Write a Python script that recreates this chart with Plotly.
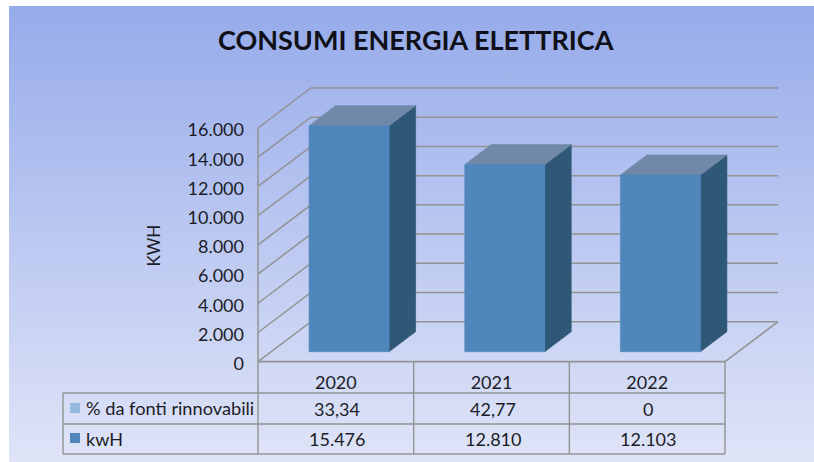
import plotly.graph_objects as go

# ---- data ----
years = ["2020", "2021", "2022"]
kwh = [15476, 12810, 12103]
renewable_pct = [33.34, 42.77, 0]
y_ticks = [0, 2000, 4000, 6000, 8000, 10000, 12000, 14000, 16000]
title_text = "CONSUMI ENERGIA ELETTRICA"
y_title = "KWH"
row_names = ["% da fonti rinnovabili", "kwH"]

# ---- layout constants ----
W, H = 814, 462
PX_X0, PX_Y0 = 258.0, 361.7      # pixel position of category 0 / value 0
PX_PER_CAT = 155.67
PX_PER_VAL = 233.7 / 16000
DEPTH_X = 53 / PX_PER_CAT        # oblique depth in category units
DEPTH_Y = 40 / PX_PER_VAL        # oblique depth in value units
BAR_HALF = 0.257
N = len(years)

GRID = "#939393"
FRONT, TOP, SIDE = "#4F86BC", "#7089A8", "#2F5877"
LIGHT_KEY = "#95B8DF"
TEXT = "#1c1c28"
FONT = "Lato"


def px(x):
    return x / W


def py(y):
    return 1 - y / H


def proj(cat, depth, val):
    return cat + depth * DEPTH_X, val + depth * DEPTH_Y


fig = go.Figure()

# background gradient on hidden full-page axes
fig.add_trace(go.Scatter(
    x=[9, W, W, 9, 9], y=[6, 6, H, H, 6], mode="lines", line=dict(width=0),
    fill="toself", showlegend=False, hoverinfo="skip", xaxis="x", yaxis="y",
    fillgradient=dict(type="vertical", start=6, stop=H,
                      colorscale=[[0, "#96ABEA"], [1, "#DFE4F7"]]),
))


def line(xs, ys, width=1.5):
    fig.add_trace(go.Scatter(x=xs, y=ys, mode="lines", showlegend=False, hoverinfo="skip",
                             line=dict(color=GRID, width=width), xaxis="x2", yaxis="y2"))


def face(pts, color):
    xs = [p[0] for p in pts] + [pts[0][0]]
    ys = [p[1] for p in pts] + [pts[0][1]]
    fig.add_trace(go.Scatter(x=xs, y=ys, mode="lines", fill="toself", fillcolor=color,
                             line=dict(color=color, width=0.6), showlegend=False,
                             hoverinfo="skip", xaxis="x2", yaxis="y2"))


# walls and floor
for v in y_ticks:
    a, b, c = proj(0, 0, v), proj(0, 1, v), proj(N, 1, v)
    line([a[0], b[0], c[0]], [a[1], b[1], c[1]])
line([0, 0], [0, y_ticks[-1]])
line([0, N], [0, 0], 1.8)
f, g = proj(N, 0, 0), proj(N, 1, 0)
line([f[0], g[0]], [f[1], g[1]])

# bars
for i, v in enumerate(kwh):
    x0, x1 = i + 0.5 - BAR_HALF, i + 0.5 + BAR_HALF
    d0, d1 = 0.25, 0.75
    face([proj(x1, d0, 0), proj(x1, d1, 0), proj(x1, d1, v), proj(x1, d0, v)], SIDE)
    face([proj(x0, d0, v), proj(x1, d0, v), proj(x1, d1, v), proj(x0, d1, v)], TOP)
    face([proj(x0, d0, 0), proj(x1, d0, 0), proj(x1, d0, v), proj(x0, d0, v)], FRONT)

# data table grid
TBL_L, TBL_COL0 = 63, 259
TBL_R = PX_X0 + N * PX_PER_CAT
ROWS = [393, 424, 454]
shapes = []
for ry in ROWS:
    shapes.append(dict(type="line", xref="paper", yref="paper", x0=px(TBL_L), x1=px(TBL_R),
                       y0=py(ry), y1=py(ry), line=dict(color=GRID, width=1.4)))
shapes.append(dict(type="line", xref="paper", yref="paper", x0=px(TBL_L), x1=px(TBL_L),
                   y0=py(ROWS[0]), y1=py(ROWS[-1]), line=dict(color=GRID, width=1.4)))
for k in range(N + 1):
    cx = PX_X0 + k * PX_PER_CAT
    shapes.append(dict(type="line", xref="paper", yref="paper", x0=px(cx), x1=px(cx),
                       y0=py(PX_Y0), y1=py(ROWS[-1]), line=dict(color=GRID, width=1.4)))
for ky, col in ((408, LIGHT_KEY), (438, FRONT)):
    shapes.append(dict(type="rect", xref="paper", yref="paper", x0=px(70), x1=px(80),
                       y0=py(ky - 5), y1=py(ky + 5), fillcolor=col, line=dict(width=0)))


def it_num(v, dec=0):
    s = f"{v:,.{dec}f}"
    return s.replace(",", "#").replace(".", ",").replace("#", ".")


annotations = []


def note(x, y, text, size=18, anchor="center", **kw):
    annotations.append(dict(xref="paper", yref="paper", x=px(x), y=py(y), text=text,
                            showarrow=False, xanchor=anchor, yanchor="middle",
                            font=dict(family=FONT, size=size, color=kw.pop("color", TEXT)), **kw))


note(416, 40, f"<b>{title_text}</b>", size=27, color="#101018")
note(153, 245.5, y_title, size=17, textangle=-90)
note(83.5, 407.5, row_names[0], anchor="left", size=18.2)
note(83.5, 438.5, row_names[1], anchor="left")
for i in range(N):
    cx = PX_X0 + (i + 0.5) * PX_PER_CAT
    p = renewable_pct[i]
    note(cx + 1, 408.5, it_num(p, 2) if p else "0")
    note(cx + 1, 439, it_num(kwh[i]))

fig.update_layout(
    width=W, height=H, margin=dict(l=0, r=0, t=0, b=0, pad=0),
    paper_bgcolor="white", plot_bgcolor="rgba(0,0,0,0)", showlegend=False,
    separators=",.",
    shapes=shapes, annotations=annotations,
    xaxis=dict(range=[0, W], visible=False, domain=[0, 1], fixedrange=True),
    yaxis=dict(range=[H, 0], visible=False, domain=[0, 1], fixedrange=True),
    xaxis2=dict(range=[-PX_X0 / PX_PER_CAT, (W - PX_X0) / PX_PER_CAT], domain=[0, 1],
                overlaying="x", anchor="free", position=(H - PX_Y0) / H, showgrid=False,
                zeroline=False, showline=False, ticks="", ticklabelstandoff=8,
                tickmode="array", tickvals=[i + 0.5 for i in range(N)], ticktext=years,
                tickfont=dict(family=FONT, size=18, color=TEXT), fixedrange=True),
    yaxis2=dict(range=[-(H - PX_Y0) / PX_PER_VAL, PX_Y0 / PX_PER_VAL], domain=[0, 1],
                overlaying="y", anchor="free", position=PX_X0 / W, showgrid=False,
                zeroline=False, showline=False, ticks="", ticklabelstandoff=14,
                ticklabelshift=2,
                tickmode="array", tickvals=y_ticks, tickformat=",d",
                tickfont=dict(family=FONT, size=18, color=TEXT), fixedrange=True),
)
fig.write_html("out.html", config={"displayModeBar": False},
               post_script="document.body.style.margin='0';")
